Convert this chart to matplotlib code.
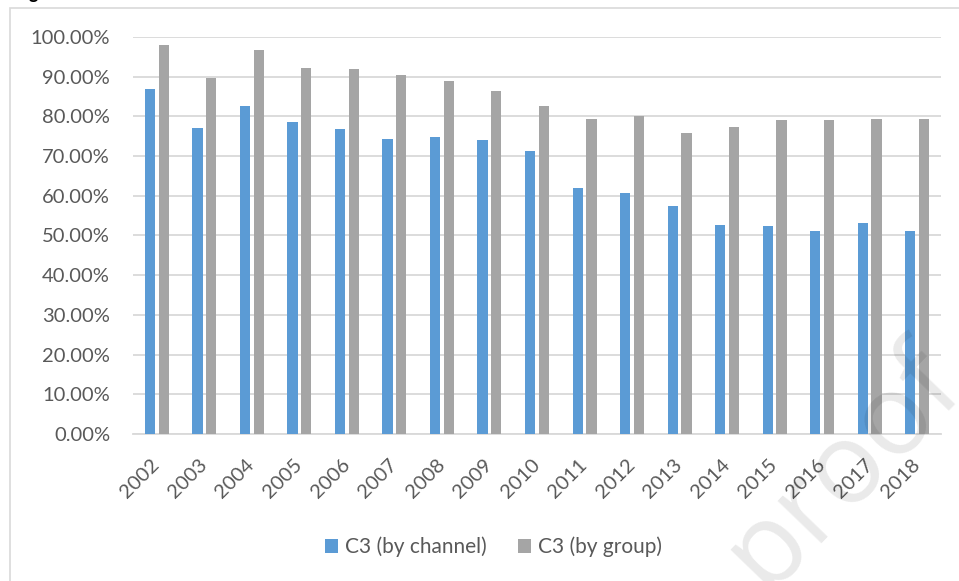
import matplotlib.pyplot as plt
from matplotlib.patches import Rectangle
import numpy as np

plt.rcParams['font.family'] = ['Lato', 'DejaVu Sans']

years = ['2002', '2003', '2004', '2005', '2006', '2007', '2008', '2009', '2010',
         '2011', '2012', '2013', '2014', '2015', '2016', '2017', '2018']
by_channel = [86.9, 77.1, 82.5, 78.6, 76.8, 74.3, 74.8, 74.1, 71.2,
              62.0, 60.6, 57.3, 52.7, 52.5, 51.1, 53.1, 51.1]
by_group = [97.9, 89.7, 96.8, 92.1, 91.9, 90.4, 88.8, 86.4, 82.5,
            79.3, 80.1, 75.7, 77.3, 79.0, 79.1, 79.4, 79.3]
yticks = [0, 10, 20, 30, 40, 50, 60, 70, 80, 90, 100]

BLUE = '#5B9BD5'
GREY = '#A5A5A5'
TXT = '#595959'
GRID = '#D9D9D9'

fig = plt.figure(figsize=(9.59, 5.81), dpi=100)
ax = fig.add_axes([0.1387, 0.253, 0.8425, 0.6834])

x = np.arange(len(years))
w = 0.215
ax.bar(x - 0.145, by_channel, w, color=BLUE, label='C3 (by channel)', zorder=3)
ax.bar(x + 0.145, by_group, w, color=GREY, label='C3 (by group)', zorder=3)

ax.set_xlim(-0.5, len(years) - 0.5)
ax.set_ylim(0, 100)
ax.set_yticks(yticks)
ax.set_yticklabels(['%.2f%%' % v for v in yticks])
ax.set_xticks(x)
ax.set_xticklabels(years, rotation=45, ha='right', va='center', rotation_mode='anchor')

ax.grid(axis='y', color=GRID, linewidth=1.3, zorder=0)
for s in ['top', 'right', 'left']:
    ax.spines[s].set_visible(False)
ax.spines['bottom'].set_color(GRID)
ax.spines['bottom'].set_linewidth(1.3)
ax.tick_params(axis='both', length=0, labelsize=14.5, colors=TXT)
ax.tick_params(axis='y', pad=16.5)
ax.tick_params(axis='x', pad=20)

leg = fig.legend(loc='center', bbox_to_anchor=(0.515, 1 - 547 / 581), ncol=2,
                 frameon=False, fontsize=15, handlelength=0.62, handleheight=0.62,
                 handletextpad=0.34, columnspacing=1.5, labelcolor=TXT)

# outer chart frame
fig.add_artist(Rectangle((10 / 959, -0.1), 1.2, 1 - 8 / 581 + 0.1,
                         transform=fig.transFigure, fill=False,
                         edgecolor=GRID, linewidth=1.2, clip_on=False))

# caption line above the chart
fig.text(14 / 959, 1 + 1 / 581, 'Figure 5', fontsize=13, fontweight='bold',
         color='black', ha='left', va='baseline')

# watermark
fig.text(765 / 959, 1 - 592 / 581, 'proof', fontsize=81, color='black', alpha=0.085,
         rotation=46, rotation_mode='anchor', ha='left', va='baseline',
         family=['Open Sans', 'DejaVu Sans'])

fig.savefig('out.png', dpi=100)
